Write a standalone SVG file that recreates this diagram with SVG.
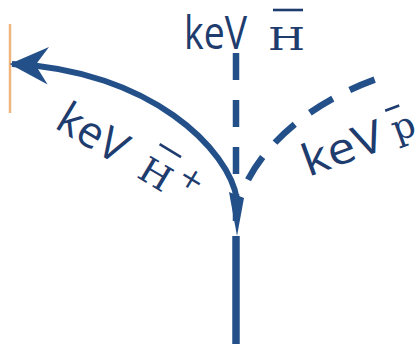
<svg xmlns="http://www.w3.org/2000/svg" width="420" height="344" viewBox="0 0 420 344">
<style>
.ln{fill:none;stroke:#24508a;stroke-linecap:butt}
.sans{font-family:"Open Sans","Liberation Sans",sans-serif;fill:#1e3c6e;font-weight:500}
.serif{font-family:"DejaVu Serif","Liberation Serif",serif;fill:#1e3c6e}
.ov{stroke:#1e3c6e;stroke-width:2.6}
</style>
<defs>
<marker id="head" markerUnits="userSpaceOnUse" markerWidth="40" markerHeight="40" refX="31" refY="16" orient="auto" viewBox="0 0 34 32">
<path d="M33,16 L0,0 L11,16 L0,32 Z" fill="#24508a"/>
</marker>
</defs>
<rect width="420" height="344" fill="#ffffff"/>
<line x1="10" y1="24" x2="10" y2="113" stroke="#eeb57e" stroke-width="2.5"/>
<g id="connectors">
<line class="ln" x1="236" y1="236" x2="236" y2="344" stroke-width="7.5"/>
<path class="ln" d="M237,200 C230,150 150,70 12,64" stroke-width="6" marker-end="url(#head)"/>
<polygon points="229,192 244,198 237,236" fill="#24508a"/>
<line class="ln" x1="236" y1="53" x2="236" y2="221" stroke-width="6.5" stroke-dasharray="27 20"/>
<path class="ln" d="M240,198 C255,155 300,105 382,77" stroke-width="6.5" stroke-dasharray="27 19" stroke-dashoffset="26"/>
</g>
<g id="label-top">
<text class="sans" x="184" y="49" font-size="46" textLength="63" lengthAdjust="spacingAndGlyphs">keV</text>
<text class="serif" x="268" y="50" font-size="32" textLength="37" lengthAdjust="spacingAndGlyphs">H</text>
<line class="ov" x1="273" y1="10" x2="303" y2="10"/>
</g>
<g id="label-left" transform="translate(55,128) rotate(31)">
<text class="sans" x="-2" y="0" font-size="44" textLength="74" lengthAdjust="spacingAndGlyphs">keV</text>
<text class="serif" x="94" y="0" font-size="35" textLength="32" lengthAdjust="spacingAndGlyphs">H</text>
<line class="ov" x1="98" y1="-40" x2="123" y2="-40"/>
<text class="serif" x="131" y="-17" font-size="30">+</text>
</g>
<g id="label-right" transform="translate(311,176) rotate(-20)">
<text class="sans" x="-3" y="0" font-size="44" textLength="84" lengthAdjust="spacingAndGlyphs">keV</text>
<text class="serif" x="92" y="-3" font-size="36">p</text>
<line class="ov" x1="92" y1="-36" x2="107" y2="-36"/>
</g>
</svg>
